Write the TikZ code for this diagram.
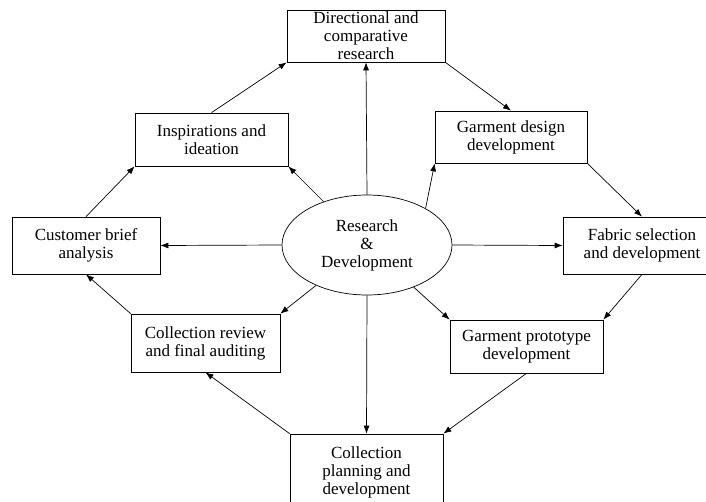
\documentclass[tikz,border=0pt]{standalone}
\usepackage{fontspec}
\setmainfont{Liberation Serif}
\usetikzlibrary{arrows.meta,shapes.geometric,calc}
\begin{document}
\begin{tikzpicture}[x=1pt,y=-1pt,
  box/.style={draw,line width=0.7pt,rectangle,inner sep=0pt,align=center,font=\fontsize{17}{18}\selectfont},
  arr/.style={line width=0.7pt,-{Latex[length=8pt,width=6pt]}}]
\useasboundingbox (0,0) rectangle (706,501);
\node[box,minimum width=158pt,minimum height=52pt] (T) at (366,36) {Directional and\\comparative\\research};
\node[box,minimum width=153pt,minimum height=53pt] (I) at (211.5,139.5) {Inspirations and\\ideation};
\node[box,minimum width=148pt,minimum height=57pt] (C) at (86,245.5) {Customer brief\\analysis};
\node[box,minimum width=152pt,minimum height=52pt] (G) at (511,137) {Garment design\\development};
\node[box,minimum width=158pt,minimum height=57pt] (F) at (642,245.5) {Fabric selection\\and development};
\node[box,minimum width=153pt,minimum height=53pt] (P) at (526.5,346.5) {Garment prototype\\development};
\node[box,minimum width=149pt,minimum height=58pt] (R) at (205.5,343) {Collection review\\and final auditing};
\node[box,minimum width=153pt,minimum height=76pt] (L) at (366.5,472) {Collection\\planning and\\development};
\node[box,ellipse,minimum width=170pt,minimum height=100pt] (E) at (367,245) {Research\\\&\\Development};
% outer ring
\draw[arr] (I.north) -- (T.south west);
\draw[arr] (T.south east) -- (G.north);
\draw[arr] (G.south east) -- (F.north);
\draw[arr] (F.south) -- (P.north east);
\draw[arr] (P.south) -- (L.north east);
\draw[arr] (L.north west) -- (R.south);
\draw[arr] (R.north west) -- (C.south);
\draw[arr] (C.north) -- (I.south west);
% spokes
\draw[arr] (E.north) -- (T.south);
\draw[arr] (E) -- (I.south east);
\draw[arr] (E.32) -- (G.south west);
\draw[arr] (E.west) -- (C.east);
\draw[arr] (E.east) -- (F.west);
\draw[arr] (E) -- (R.north east);
\draw[arr] (E) -- (P.north west);
\draw[arr] (E.south) -- (L.north);
\end{tikzpicture}
\end{document}
